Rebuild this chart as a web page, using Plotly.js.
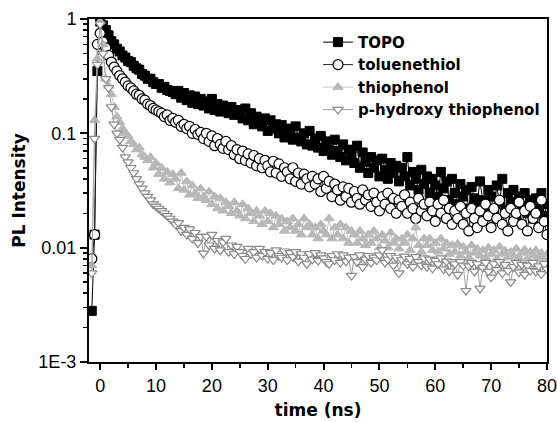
<!DOCTYPE html>
<html>
<head>
<meta charset="utf-8">
<script src="https://cdn.plot.ly/plotly-3.0.1.min.js"></script>
<style>html,body{margin:0;padding:0;background:#fff;}#chart{width:557px;height:422px;}</style>
</head>
<body>
<div id="chart"></div>
<script>
// time axis (ns)
var time = [
  -1.5,-1,-0.5,0,0.5,1,1.5,2,2.5,3,
  3.5,4,4.5,5,5.5,6,6.5,7,7.5,8,
  8.5,9,9.5,10,10.5,11,11.5,12,12.5,13,
  13.5,14,14.5,15,15.5,16,16.5,17,17.5,18,
  18.5,19,19.5,20,20.5,21,21.5,22,22.5,23,
  23.5,24,24.5,25,25.5,26,26.5,27,27.5,28,
  28.5,29,29.5,30,30.5,31,31.5,32,32.5,33,
  33.5,34,34.5,35,35.5,36,36.5,37,37.5,38,
  38.5,39,39.5,40,40.5,41,41.5,42,42.5,43,
  43.5,44,44.5,45,45.5,46,46.5,47,47.5,48,
  48.5,49,49.5,50,50.5,51,51.5,52,52.5,53,
  53.5,54,54.5,55,55.5,56,56.5,57,57.5,58,
  58.5,59,59.5,60,60.5,61,61.5,62,62.5,63,
  63.5,64,64.5,65,65.5,66,66.5,67,67.5,68,
  68.5,69,69.5,70,70.5,71,71.5,72,72.5,73,
  73.5,74,74.5,75,75.5,76,76.5,77,77.5,78,
  78.5,79,79.5,80];

var topo = [
  0.0028,0.013,0.35,0.95,0.88,0.8,0.72,0.64,0.6,0.55,
  0.52,0.48,0.46,0.43,0.42,0.39,0.37,0.36,0.33,0.32,
  0.3,0.3,0.28,0.27,0.27,0.25,0.255,0.24,0.235,0.23,
  0.22,0.235,0.205,0.225,0.195,0.215,0.185,0.21,0.18,0.2,
  0.175,0.19,0.165,0.2,0.16,0.18,0.155,0.175,0.165,0.15,
  0.17,0.145,0.16,0.15,0.135,0.165,0.13,0.15,0.12,0.14,
  0.125,0.115,0.135,0.105,0.13,0.11,0.12,0.1,0.118,0.092,
  0.11,0.1,0.088,0.115,0.092,0.085,0.1,0.08,0.105,0.078,
  0.09,0.075,0.095,0.07,0.085,0.072,0.065,0.088,0.07,0.062,
  0.08,0.058,0.072,0.065,0.055,0.078,0.05,0.068,0.056,0.045,
  0.062,0.05,0.058,0.042,0.06,0.048,0.04,0.055,0.045,0.052,
  0.038,0.05,0.042,0.062,0.035,0.046,0.04,0.032,0.048,0.036,
  0.042,0.03,0.04,0.035,0.028,0.046,0.033,0.038,0.026,0.04,
  0.03,0.024,0.036,0.028,0.032,0.022,0.034,0.027,0.025,0.038,
  0.026,0.022,0.032,0.028,0.02,0.035,0.024,0.04,0.021,0.03,
  0.025,0.032,0.019,0.028,0.023,0.03,0.02,0.026,0.018,0.027,
  0.022,0.03,0.019,0.024];

var toluenethiol = [
  0.008,0.013,0.6,0.75,0.63,0.56,0.48,0.42,0.38,0.35,
  0.32,0.3,0.28,0.26,0.25,0.235,0.22,0.215,0.2,0.195,
  0.18,0.175,0.165,0.16,0.155,0.15,0.14,0.145,0.13,0.135,
  0.125,0.13,0.115,0.12,0.11,0.115,0.1,0.108,0.098,0.102,
  0.09,0.1,0.085,0.095,0.078,0.09,0.08,0.074,0.085,0.072,
  0.078,0.065,0.072,0.06,0.07,0.058,0.066,0.055,0.064,0.052,
  0.06,0.05,0.058,0.052,0.046,0.057,0.045,0.054,0.042,0.05,
  0.046,0.04,0.05,0.038,0.045,0.036,0.044,0.04,0.034,0.042,
  0.036,0.04,0.031,0.042,0.033,0.038,0.028,0.036,0.032,0.026,
  0.034,0.028,0.033,0.025,0.031,0.027,0.024,0.032,0.026,0.029,
  0.023,0.03,0.025,0.021,0.028,0.024,0.03,0.022,0.027,0.02,
  0.026,0.023,0.029,0.02,0.025,0.022,0.018,0.027,0.021,0.024,
  0.019,0.025,0.021,0.017,0.024,0.02,0.026,0.018,0.022,0.016,
  0.021,0.018,0.023,0.016,0.02,0.014,0.022,0.018,0.015,0.021,
  0.017,0.024,0.019,0.015,0.022,0.018,0.026,0.016,0.02,0.014,
  0.022,0.017,0.02,0.025,0.016,0.021,0.014,0.023,0.018,0.02,
  0.015,0.026,0.017,0.013];

var thiophenol = [
  0.007,0.13,0.45,0.95,0.6,0.3,0.26,0.22,0.17,0.14,
  0.125,0.11,0.1,0.095,0.085,0.08,0.072,0.075,0.065,0.062,
  0.058,0.062,0.05,0.055,0.044,0.05,0.04,0.046,0.037,0.044,
  0.04,0.033,0.045,0.032,0.038,0.029,0.035,0.03,0.027,0.033,
  0.028,0.026,0.031,0.024,0.028,0.022,0.027,0.021,0.025,0.023,
  0.02,0.025,0.021,0.019,0.024,0.018,0.022,0.02,0.017,0.021,
  0.019,0.016,0.021,0.017,0.02,0.015,0.019,0.016,0.018,0.014,
  0.017,0.015,0.018,0.014,0.016,0.013,0.018,0.015,0.016,0.013,
  0.015,0.012,0.016,0.014,0.013,0.018,0.012,0.015,0.013,0.016,
  0.012,0.015,0.011,0.014,0.013,0.011,0.014,0.012,0.0105,0.013,
  0.011,0.014,0.012,0.01,0.013,0.0115,0.01,0.0135,0.011,0.012,
  0.0098,0.012,0.011,0.013,0.0095,0.012,0.015,0.0105,0.0092,0.012,
  0.0105,0.012,0.0095,0.011,0.0092,0.012,0.0098,0.011,0.0088,0.0105,
  0.0092,0.0108,0.0085,0.0102,0.0092,0.0082,0.0105,0.009,0.0098,0.0085,
  0.0095,0.0082,0.01,0.0088,0.0095,0.008,0.0102,0.0088,0.0094,0.0082,
  0.0092,0.0085,0.0098,0.0082,0.009,0.0096,0.008,0.0092,0.0085,0.0095,
  0.0082,0.009,0.0078,0.0088];

var hydroxy = [
  0.006,0.09,0.4,0.9,0.5,0.3,0.25,0.17,0.12,0.1,
  0.088,0.075,0.062,0.056,0.05,0.045,0.04,0.036,0.033,0.03,
  0.028,0.026,0.024,0.023,0.022,0.021,0.02,0.019,0.018,0.017,
  0.016,0.0165,0.014,0.015,0.013,0.0145,0.012,0.0135,0.011,0.0125,
  0.0089,0.0125,0.0105,0.013,0.0098,0.0115,0.0095,0.0112,0.012,0.0092,
  0.0105,0.0088,0.0102,0.0092,0.0085,0.008,0.0098,0.0088,0.0092,0.0082,
  0.0098,0.0085,0.0092,0.008,0.009,0.0078,0.0095,0.0085,0.0082,0.0093,
  0.0078,0.009,0.0083,0.0092,0.0076,0.0088,0.0082,0.0072,0.0088,0.0079,
  0.009,0.0077,0.0086,0.0081,0.0075,0.0072,0.0085,0.0078,0.0088,0.0074,
  0.0086,0.0076,0.0082,0.0057,0.0083,0.0075,0.0086,0.0068,0.0079,0.0085,
  0.0074,0.0082,0.0078,0.0086,0.0095,0.0074,0.0079,0.0085,0.007,0.0082,
  0.006,0.0078,0.0084,0.0072,0.008,0.0068,0.0083,0.0075,0.007,0.0081,
  0.0068,0.0079,0.0066,0.0077,0.0072,0.0081,0.0065,0.0076,0.0062,0.0075,
  0.0072,0.0058,0.0075,0.007,0.0042,0.0069,0.0074,0.0062,0.0072,0.0044,
  0.0067,0.0074,0.0062,0.0055,0.0072,0.0064,0.0075,0.006,0.0071,0.0063,
  0.005,0.0068,0.0074,0.0061,0.0071,0.0058,0.007,0.0063,0.0074,0.0062,
  0.0069,0.0059,0.0072,0.0065];

var seriesNames = ['TOPO','toluenethiol','thiophenol','p-hydroxy thiophenol'];
var yTickVals = [0.001,0.01,0.1,1];
var yTickText = ['1E-3','0.01','0.1','1'];
var xTickVals = [0,10,20,30,40,50,60,70,80];

var minorY = [];
[0.001,0.01,0.1].forEach(function(d){ for (var k=2;k<=9;k++) minorY.push(d*k); });

var traces = [
  {x: time, y: topo, name: seriesNames[0], mode: 'lines+markers', type: 'scatter',
   line: {color: '#000000', width: 1},
   marker: {symbol: 'square', size: 9, color: '#000000', line: {color: '#000000', width: 1}}},
  {x: time, y: toluenethiol, name: seriesNames[1], mode: 'lines+markers', type: 'scatter',
   line: {color: '#222222', width: 1},
   marker: {symbol: 'circle', size: 10, color: '#ffffff', line: {color: '#000000', width: 1.2}}},
  {x: time, y: thiophenol, name: seriesNames[2], mode: 'lines+markers', type: 'scatter',
   line: {color: '#c4c4c4', width: 1},
   marker: {symbol: 'triangle-up', size: 9, color: '#b8b8b8', line: {color: '#b8b8b8', width: 1}}},
  {x: time, y: hydroxy, name: seriesNames[3], mode: 'lines+markers', type: 'scatter',
   line: {color: '#a0a0a0', width: 1},
   marker: {symbol: 'triangle-down', size: 9, color: '#ffffff', line: {color: '#8a8a8a', width: 1.2}}}
];

var layout = {
  width: 557, height: 422,
  margin: {l: 89, r: 10, t: 19, b: 60},
  paper_bgcolor: '#ffffff', plot_bgcolor: '#ffffff',
  font: {family: 'Liberation Sans, Arial, sans-serif', size: 18, color: '#000'},
  showlegend: true,
  legend: {x: 0.5, y: 0.98, xanchor: 'left', yanchor: 'top', bgcolor: 'rgba(0,0,0,0)',
           font: {family: 'DejaVu Sans, sans-serif', size: 15, color: '#000', weight: 'bold'},
           tracegroupgap: 0, itemwidth: 30},
  xaxis: {
    range: [-2, 80], showgrid: false, zeroline: false,
    showline: true, linecolor: '#000', linewidth: 2, mirror: true,
    ticks: 'outside', ticklen: 6, tickwidth: 2, tickcolor: '#000',
    tickmode: 'array', tickvals: xTickVals, ticklabeloverflow: 'allow',
    minor: {ticks: 'outside', ticklen: 4, tickwidth: 1.5, dtick: 5, tick0: 0, tickcolor: '#000', showgrid: false},
    tickfont: {size: 18},
    title: {text: 'time (ns)', font: {family: 'DejaVu Sans, sans-serif', size: 17, weight: 'bold'}, standoff: 10}
  },
  yaxis: {
    type: 'log', range: [-3, 0], showgrid: false, zeroline: false,
    showline: true, linecolor: '#000', linewidth: 2, mirror: true,
    ticks: 'outside', ticklen: 7, tickwidth: 2, tickcolor: '#000',
    tickmode: 'array', tickvals: yTickVals, ticktext: yTickText, ticklabeloverflow: 'allow',
    minor: {ticks: 'outside', ticklen: 4, tickwidth: 1.5, tickmode: 'array', tickvals: minorY, tickcolor: '#000', showgrid: false},
    tickfont: {size: 18},
    title: {text: 'PL Intensity', font: {family: 'DejaVu Sans, sans-serif', size: 17, weight: 'bold'}, standoff: 8}
  }
};

Plotly.newPlot('chart', traces, layout, {staticPlot: true, displayModeBar: false});
</script>
</body>
</html>
